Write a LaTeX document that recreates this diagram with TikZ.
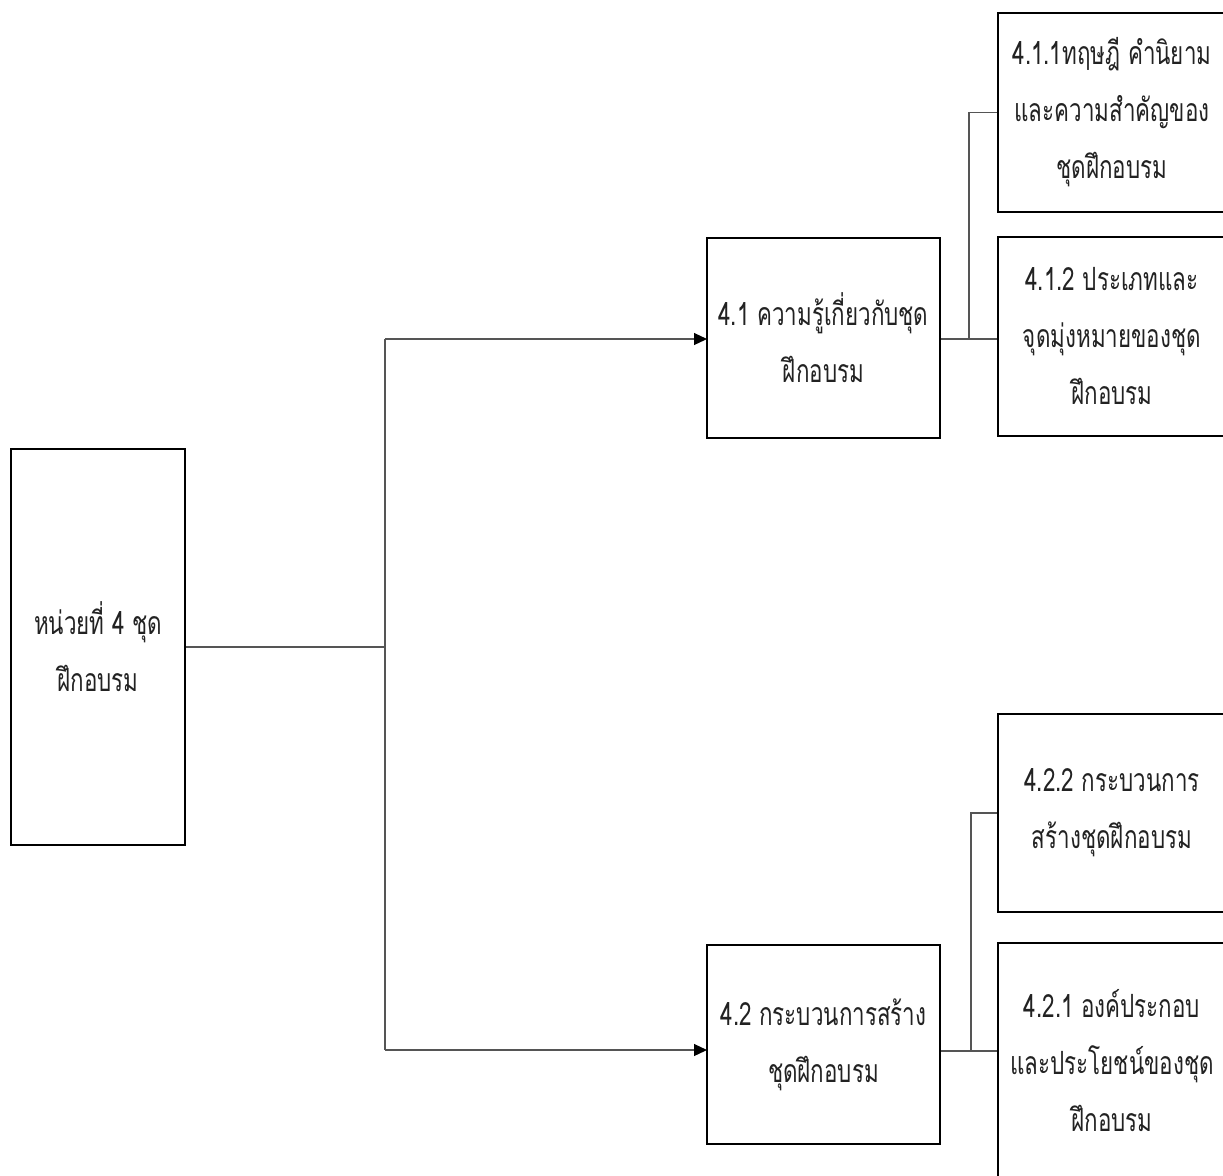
\documentclass[tikz,border=0pt]{standalone}
\usepackage{fontspec}
\newfontfamily\thaifont[Script=Thai,FakeStretch=0.7]{Loma}
\usetikzlibrary{arrows.meta}
\definecolor{txt}{HTML}{222222}
\definecolor{conn}{HTML}{555555}
\tikzset{
  box/.style={draw=black, line width=1pt, fill=white, inner sep=0pt, align=center,
    text=txt, font=\thaifont\fontsize{16}{28.5}\selectfont},
  link/.style={draw=conn, line width=0.6pt},
  arr/.style={link, -{Triangle[length=6.5pt,width=6pt,color=black]}}
}
\begin{document}
\begin{tikzpicture}[x=0.5pt,y=-0.5pt]
\useasboundingbox (0,0) rectangle (1223,1175);
% main boxes
\node[box, minimum width=87pt, minimum height=198pt] (root) at (98,647) {หน่วยที่ 4 ชุด\\ฝึกอบรม};
\node[box, minimum width=116.5pt, minimum height=100pt] (b41) at (823.5,338) {4.1 ความรู้เกี่ยวกับชุด\\ฝึกอบรม};
\node[box, minimum width=116.5pt, minimum height=99.5pt] (b42) at (823.5,1044.5) {4.2 กระบวนการสร้าง\\ชุดฝึกอบรม};
% right boxes
\node[box, minimum width=114pt, minimum height=99.5pt] (b411) at (1112,112.5) {4.1.1ทฤษฎี คำนิยาม\\และความสำคัญของ\\ชุดฝึกอบรม};
\node[box, minimum width=114pt, minimum height=99.5pt] (b412) at (1112,336.5) {4.1.2 ประเภทและ\\จุดมุ่งหมายของชุด\\ฝึกอบรม};
\node[box, minimum width=114pt, minimum height=99pt] (b422) at (1112,813) {4.2.2 กระบวนการ\\สร้างชุดฝึกอบรม};
\node[box, minimum width=114pt, minimum height=118pt] (b421) at (1112,1061) {4.2.1 องค์ประกอบ\\และประโยชน์ของชุด\\ฝึกอบรม};
% junction coordinates
\coordinate (bus) at (385,647);
\coordinate (a41) at (707,339);
\coordinate (a42) at (707,1050);
\coordinate (j1) at (969,339);
\coordinate (j2) at (971,1051);
% connectors
\draw[link] (root.east |- bus) -- (bus);
\draw[link] (bus |- a41) -- (bus |- a42);
\draw[arr] (bus |- a41) -- (a41);
\draw[arr] (bus |- a42) -- (a42);
\draw[link] (b41.east |- j1) -- (b412.west |- j1);
\draw[link] (j1) -- (j1 |- b411.west) -- (b411.west);
\draw[link] (b42.east |- j2) -- (b421.west |- j2);
\draw[link] (j2) -- (j2 |- b422.west) -- (b422.west);
\end{tikzpicture}
\end{document}
